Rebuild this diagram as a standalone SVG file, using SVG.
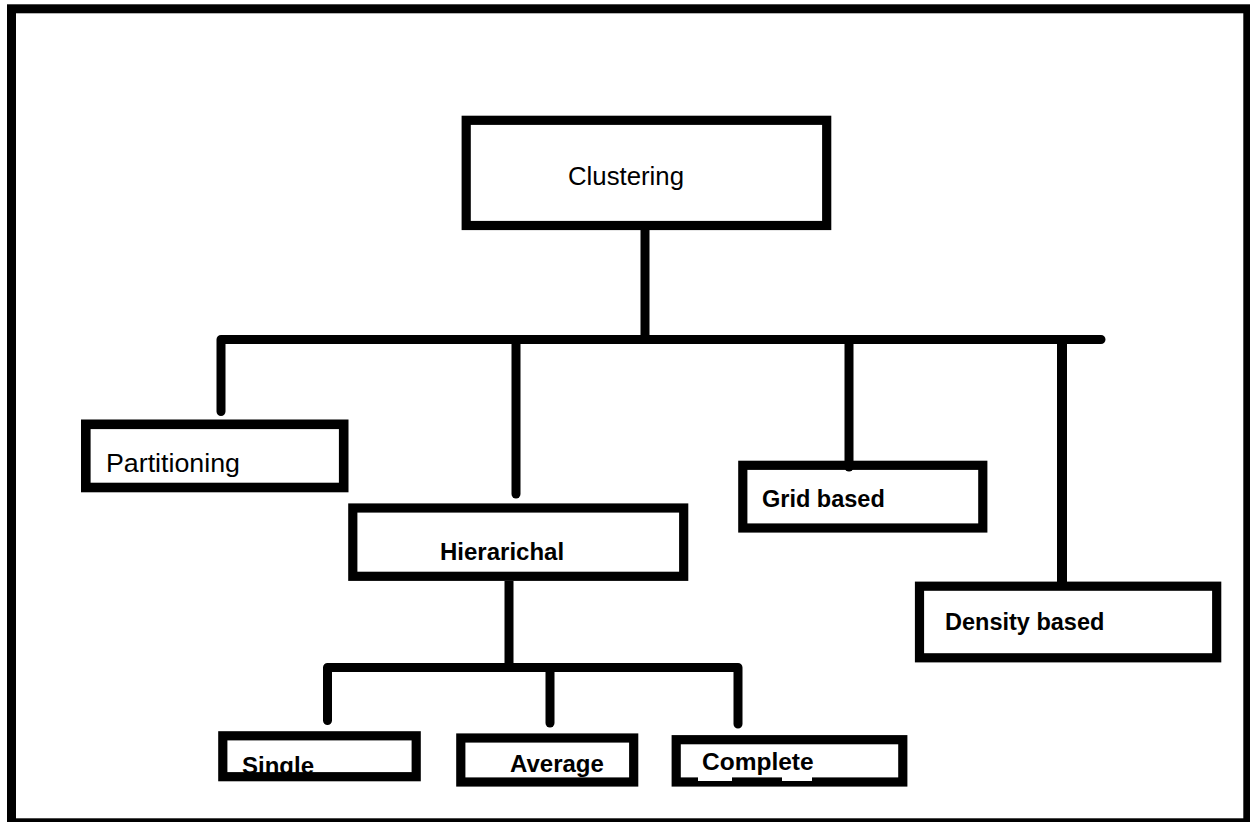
<svg xmlns="http://www.w3.org/2000/svg" width="1250" height="822" viewBox="0 0 1250 822">
  <style>
    .box { fill: none; stroke: #000; stroke-width: 9.2; }
    .frame { fill: none; stroke: #000; stroke-width: 9; }
    .conn { fill: none; stroke: #000; stroke-width: 9; stroke-linecap: round; stroke-linejoin: round; }
    .reg { font-family: "Liberation Sans", Arial, sans-serif; font-size: 25px; fill: #000; }
    .bold { font-family: "Liberation Sans", Arial, sans-serif; font-size: 24px; font-weight: bold; fill: #000; }
  </style>
  <rect x="0" y="0" width="1250" height="822" fill="#fff"/>
  <rect class="frame" x="11.5" y="8.8" width="1236.3" height="814"/>

  <g id="connectors">
    <line class="conn" x1="645" y1="230" x2="645" y2="339.5" style="stroke-linecap:butt"/>
    <path class="conn" d="M221,411.5 V339.5 H1101"/>
    <line class="conn" x1="516" y1="339.5" x2="516" y2="494"/>
    <line class="conn" x1="849" y1="339.5" x2="849" y2="467"/>
    <line class="conn" x1="1062" y1="339.5" x2="1062" y2="586" style="stroke-width:10;stroke-linecap:butt"/>
    <line class="conn" x1="509" y1="581" x2="509" y2="667.5" style="stroke-linecap:butt"/>
    <path class="conn" d="M327.5,720.5 V667.5 H738 V724"/>
    <line class="conn" x1="550" y1="667.5" x2="550" y2="723"/>
  </g>

  <g id="clustering">
    <rect class="box" x="466.2" y="120.3" width="360.5" height="105.2"/>
    <text class="reg" x="568" y="185" textLength="116" lengthAdjust="spacingAndGlyphs">Clustering</text>
  </g>

  <g id="partitioning">
    <rect class="box" x="85.8" y="424.3" width="257.9" height="63.2" style="stroke-width:9.6"/>
    <text class="reg" x="106" y="472" textLength="134" lengthAdjust="spacingAndGlyphs">Partitioning</text>
  </g>

  <g id="hierarichal">
    <rect class="box" x="352.8" y="508" width="330.9" height="68.3"/>
    <text class="bold" x="440" y="560">Hierarichal</text>
  </g>

  <g id="grid-based">
    <rect class="box" x="742.8" y="465.3" width="240" height="62.7"/>
    <text class="bold" x="762" y="507" style="font-size:23.5px">Grid based</text>
  </g>

  <g id="density-based">
    <rect class="box" x="919.5" y="586.2" width="297.2" height="71.6"/>
    <text class="bold" x="945" y="629.5" style="font-size:23.5px">Density based</text>
  </g>

  <g id="single">
    <text class="bold" x="242" y="774">Single</text>
    <rect class="box" x="222.8" y="735.8" width="193.4" height="40.9" style="fill:none"/>
  </g>

  <g id="average">
    <rect class="box" x="460.8" y="738" width="172.9" height="44"/>
    <text class="bold" x="510" y="772">Average</text>
  </g>

  <g id="complete">
    <rect class="box" x="676.2" y="739.7" width="226.6" height="42.3"/>
    <rect x="698" y="777" width="34" height="4" fill="#fff"/>
    <rect x="782" y="777" width="30" height="4" fill="#fff"/>
    <text class="bold" x="702" y="769.5" style="font-size:24.5px">Complete</text>
  </g>
</svg>
